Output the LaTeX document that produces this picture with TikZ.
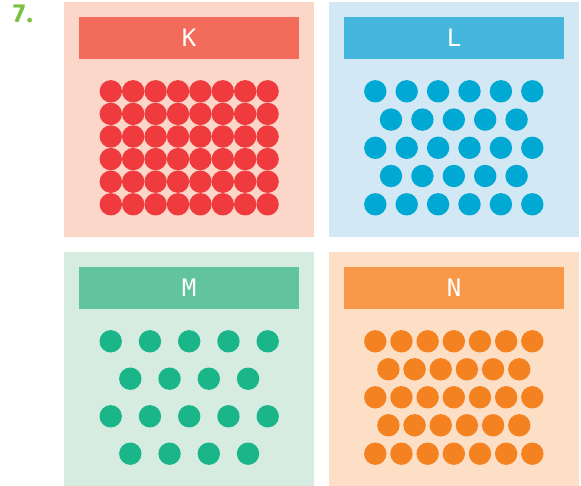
\documentclass[tikz,border=0pt]{standalone}
\usepackage{fontspec}
\newfontfamily\barfont{DejaVu Sans Mono}
\newfontfamily\numfont{Fira Sans}
\usetikzlibrary{positioning}

\definecolor{kback}{HTML}{FBD6C9}
\definecolor{kbar}{HTML}{F26B5B}
\definecolor{kdot}{HTML}{EF3B3E}
\definecolor{lback}{HTML}{D2E9F5}
\definecolor{lbar}{HTML}{45B7DD}
\definecolor{ldot}{HTML}{00A8D4}
\definecolor{mback}{HTML}{D6ECE0}
\definecolor{mbar}{HTML}{62C49E}
\definecolor{mdot}{HTML}{1AB68A}
\definecolor{nback}{HTML}{FDDFC6}
\definecolor{nbar}{HTML}{F89848}
\definecolor{ndot}{HTML}{F58220}
\definecolor{numgreen}{HTML}{7AC143}

\begin{document}
\begin{tikzpicture}[
    x=1pt, y=-1pt,
    panel/.style={
        rectangle,
        inner sep=0pt,
        minimum width=250pt,
        minimum height=235pt
    },
    bar/.style={
        rectangle,
        inner sep=0pt,
        minimum width=220pt,
        minimum height=42pt,
        text=white,
        font=\barfont\fontsize{24}{24}\selectfont
    },
    number/.style={font=\numfont\bfseries\fontsize{26}{26}\selectfont, text=numgreen, inner sep=0pt}
]

\def\dotR{11.2pt}

\useasboundingbox (0,0) rectangle (581,486);

%% ===== NUMBER =====
\node[number] (num) at (23,14) {7\kern1.5pt.};

%% ===== PANEL K =====
\node[panel, fill=kback] (pK) at (189,119.5) {};
\node[bar, fill=kbar, below=15pt of pK.north, anchor=north] (bK) {K};
\foreach \r in {0,...,5}
  \foreach \c in {0,...,7}
    \fill[kdot] ({110.8+22.4*\c},{91.3+22.6*\r}) circle (\dotR);

%% ===== PANEL L =====
\node[panel, fill=lback] (pL) at (454,119.5) {};
\node[bar, fill=lbar, below=15pt of pL.north, anchor=north] (bL) {L};
\foreach \y in {91.3,147.8,204.3}
  \foreach \c in {0,...,5}
    \fill[ldot] ({375.3+31.4*\c},\y) circle (\dotR);
\foreach \y in {119.6,176}
  \foreach \c in {0,...,4}
    \fill[ldot] ({391+31.4*\c},\y) circle (\dotR);

%% ===== PANEL M =====
\node[panel, fill=mback] (pM) at (189,369.5) {};
\node[bar, fill=mbar, below=15pt of pM.north, anchor=north] (bM) {M};
\foreach \y in {341.3,416.3}
  \foreach \c in {0,...,4}
    \fill[mdot] ({110.7+39.25*\c},\y) circle (\dotR);
\foreach \y in {378.7,453.7}
  \foreach \c in {0,...,3}
    \fill[mdot] ({130.3+39.25*\c},\y) circle (\dotR);

%% ===== PANEL N =====
\node[panel, fill=nback] (pN) at (454,369.5) {};
\node[bar, fill=nbar, below=15pt of pN.north, anchor=north] (bN) {N};
\foreach \y in {341.3,397.3,453.7}
  \foreach \c in {0,...,6}
    \fill[ndot] ({375.3+26.17*\c},\y) circle (\dotR);
\foreach \y in {369.3,425.3}
  \foreach \c in {0,...,5}
    \fill[ndot] ({388.4+26.17*\c},\y) circle (\dotR);

\end{tikzpicture}
\end{document}
